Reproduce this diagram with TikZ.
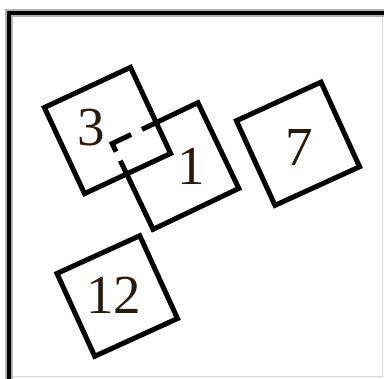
\documentclass[tikz,border=0pt]{standalone}
\usepackage{fontspec}
\setmainfont{Liberation Serif}
\usetikzlibrary{calc}
\definecolor{dbrown}{RGB}{40,28,16}
\tikzset{sq/.style = {rectangle, inner sep=0, outer sep=0, minimum size=#1}}
\tikzset{num/.style = {text=dbrown, inner sep=0,
                       font=\fontsize{55}{55}\selectfont}}
\begin{document}
\begin{tikzpicture}[x=1pt,y=-1pt,line width=5pt]
  \useasboundingbox (0,0) rectangle (384,379);
  \draw[line width=8pt, black!30] (9,379) -- (9,13) -- (384,13);
  \draw[line width=4.5pt] (9,379) -- (9,13) -- (384,13);
  \draw[line width=1pt, black!15] (382,17) -- (382,377) -- (13,377);
  \node[sq=95pt, draw, rotate=25] (s3) at (107.5,130.5) {};
  \node[sq=95pt, rotate=25.5] (s1) at (175.5,166) {};
  \draw ($(s1.north west)!33pt!(s1.north east)$) -- (s1.north east)
    -- (s1.south east) -- (s1.south west)
    -- ($(s1.north west)!19pt!(s1.south west)$);
  \draw ($(s1.north west)!21pt!(s1.north east)$) -- (s1.north west)
    -- ($(s1.north west)!9pt!(s1.south west)$);
  \node[sq=93pt, draw, rotate=24.5] (s7) at (298,143.75) {};
  \node[sq=91pt, draw, rotate=24.5] (s12) at (117.25,296) {};
  \node[num] (n3) at (91,128) {3};
  \node[num] (n1) at (191,166) {1};
  \node[num] (n7) at (299,147) {7};
  \node[num] (n12) at (114,295) {12};
\end{tikzpicture}
\end{document}
